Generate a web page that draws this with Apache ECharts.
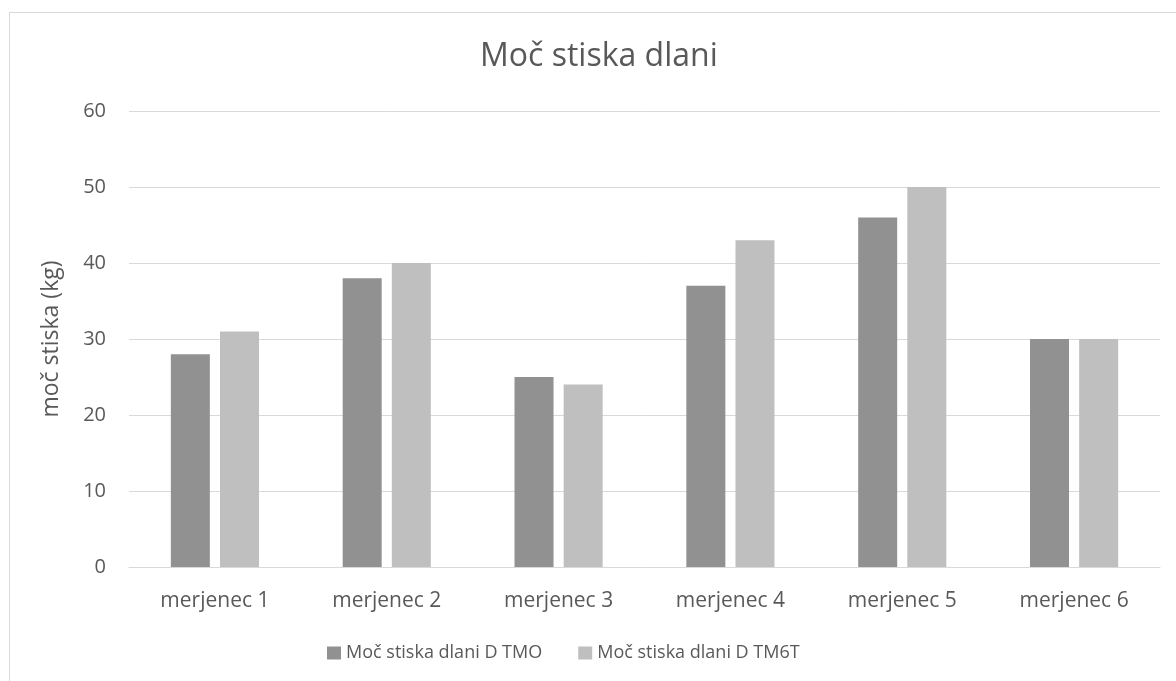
<!DOCTYPE html>
<html>
<head>
<meta charset="utf-8">
<script src="https://cdn.jsdelivr.net/npm/echarts@6/dist/echarts.min.js"></script>
<style>
  html, body { margin: 0; padding: 0; background: #ffffff; overflow: hidden; }
  #frame { position: absolute; left: 9px; top: 12px; width: 1200px; height: 700px;
           border: 1px solid #d9d9d9; box-sizing: border-box; }
  #chart { position: absolute; left: 0; top: 0; width: 1176px; height: 681px; }
</style>
</head>
<body>
<div id="frame"></div>
<div id="chart"></div>
<script>
// Hand grip strength per subject, two measurements
const categories = ['merjenec 1', 'merjenec 2', 'merjenec 3', 'merjenec 4', 'merjenec 5', 'merjenec 6'];
const seriesNames = ['Moč stiska dlani D TMO', 'Moč stiska dlani D TM6T'];
const valuesTMO = [28, 38, 25, 37, 46, 30];
const valuesTM6T = [31, 40, 24, 43, 50, 30];
const yTicks = { min: 0, max: 60, interval: 10 };

const FONT = '"Open Sans", sans-serif';
const TEXT = '#595959';

const chart = echarts.init(document.getElementById('chart'), null, { renderer: 'canvas' });
chart.setOption({
  animation: false,
  backgroundColor: 'transparent',
  title: {
    text: 'Moč stiska dlani',
    left: 475,
    top: 36,
    textStyle: { fontFamily: FONT, fontSize: 32, fontWeight: 'normal', color: TEXT }
  },
  legend: {
    bottom: 14,
    left: 322,
    itemWidth: 14,
    itemHeight: 13,
    itemGap: 36,
    icon: 'rect',
    textStyle: { fontFamily: FONT, fontSize: 18, color: TEXT, padding: [0, 0, 0, 0] },
    data: seriesNames
  },
  grid: { left: 129, right: 16, top: 111, bottom: 114, containLabel: false },
  xAxis: {
    type: 'category',
    data: categories,
    axisLine: { lineStyle: { color: '#d9d9d9', width: 1 } },
    axisTick: { show: false },
    axisLabel: { fontFamily: FONT, fontSize: 21, color: TEXT, margin: 24 }
  },
  yAxis: {
    type: 'value',
    min: yTicks.min,
    max: yTicks.max,
    interval: yTicks.interval,
    name: 'moč stiska (kg)',
    nameLocation: 'middle',
    nameGap: 66,
    nameTextStyle: { fontFamily: FONT, fontSize: 23, color: TEXT },
    axisLine: { show: false },
    axisTick: { show: false },
    axisLabel: { fontFamily: FONT, fontSize: 20, color: TEXT, margin: 23 },
    splitLine: { lineStyle: { color: '#d9d9d9', width: 1 } }
  },
  series: [
    {
      name: seriesNames[0],
      type: 'bar',
      data: valuesTMO,
      barWidth: 39,
      barGap: '26%',
      itemStyle: { color: '#919191' }
    },
    {
      name: seriesNames[1],
      type: 'bar',
      data: valuesTM6T,
      barWidth: 39,
      barGap: '26%',
      itemStyle: { color: '#bfbfbf' }
    }
  ]
});
</script>
</body>
</html>
